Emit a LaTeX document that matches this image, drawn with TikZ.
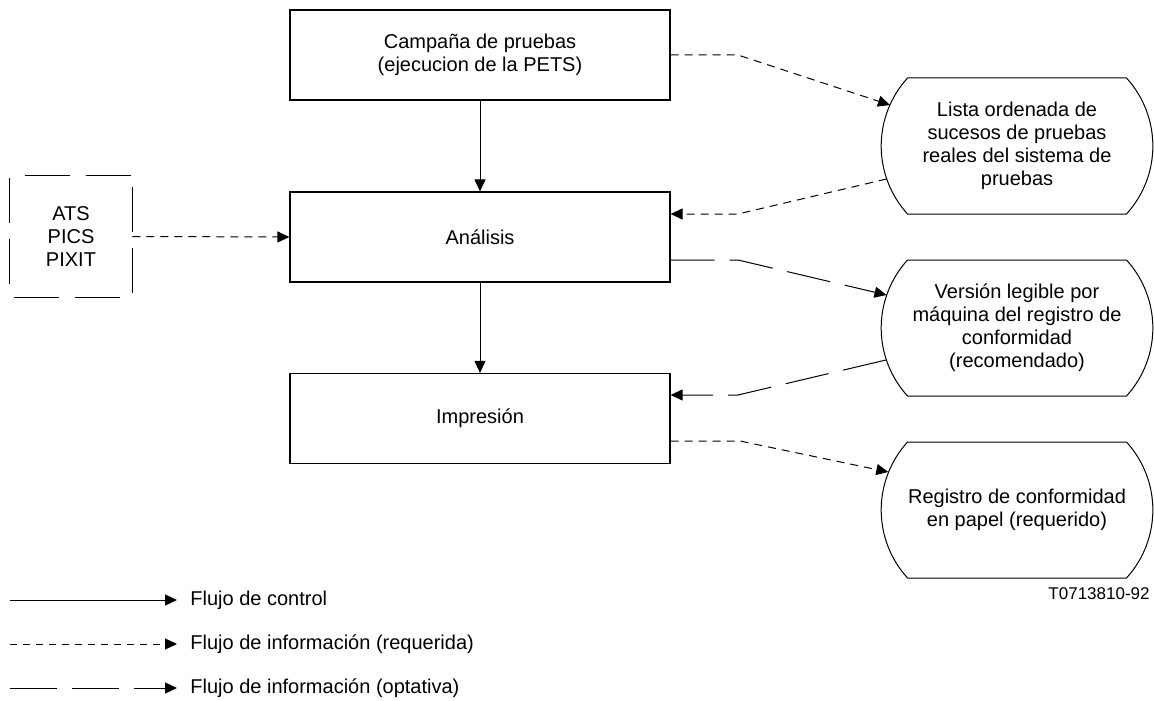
\documentclass[tikz,border=0pt]{standalone}
\usepackage{fontspec}
\setmainfont{Liberation Sans}
\usetikzlibrary{arrows.meta,calc}
\tikzset{
  box/.style={draw,line width=0.6pt,minimum width=190pt,minimum height=45pt,inner sep=0pt,align=center,font=\fontsize{10pt}{11.5pt}\selectfont},
  txt/.style={inner sep=0pt,align=center,font=\fontsize{10pt}{11.5pt}\selectfont},
  tip/.style={-{Triangle[length=6pt,width=5.5pt]}},
  ctl/.style={tip,line width=0.5pt},
  req/.style={tip,line width=0.5pt,dash pattern=on 4pt off 3pt},
  opt/.style={tip,line width=0.5pt,dash pattern=on 22pt off 7.5pt},
  shp/.style={line width=0.5pt},
  extside/.style={line width=0.5pt,dash pattern=on 22.5pt off 8pt}
}
\newcommand{\docshape}[1]{%
  \draw[shp] ($(#1)+(-109.5,-68)$) -- ($(#1)+(109.5,-68)$)
    .. controls ($(#1)+(144.6,-29.3)$) and ($(#1)+(144.6,29.3)$) .. ($(#1)+(109.5,68)$)
    -- ($(#1)+(-109.5,68)$)
    .. controls ($(#1)+(-144.6,29.3)$) and ($(#1)+(-144.6,-29.3)$) .. cycle;}
\begin{document}
\begin{tikzpicture}[x=0.5pt,y=-0.5pt]
\useasboundingbox (0,0) rectangle (1154,700);

% main boxes
\node[box] (camp) at (480,55) {Campaña de pruebas\\(ejecucion de la PETS)};
\node[box] (anal) at (480,237) {Análisis};
\node[box] (impr) at (480,418.5) {Impresión};

% external (dashed) box
\node[txt,minimum width=61pt,minimum height=60.5pt] (ext) at (71,236.5) {ATS\\PICS\\PIXIT};
\draw[extside,dash phase=23pt] (ext.north west) -- (ext.north east);
\draw[extside,dash phase=29.5pt] (ext.north west) -- (ext.south west);
\draw[extside,dash phase=25pt] (ext.north east) -- (ext.south east);
\draw[extside,dash phase=28.5pt] (ext.south west) -- (ext.south east);

% right-hand shapes
\node[txt] (lista) at (1017,146) {Lista ordenada de\\sucesos de pruebas\\reales del sistema de\\pruebas};
\docshape{lista}
\node[txt] (version) at (1017,328) {Versión legible por\\máquina del registro de\\conformidad\\(recomendado)};
\docshape{version}
\node[txt] (registro) at (1017,510) {Registro de conformidad\\en papel (requerido)};
\docshape{registro}

\coordinate (lista-in) at ($(lista)+(-127,-41)$);
\coordinate (lista-out) at ($(lista)+(-130.5,33)$);
\coordinate (version-in) at ($(version)+(-130.5,-33)$);
\coordinate (version-out) at ($(version)+(-131,32)$);
\coordinate (registro-in) at ($(registro)+(-128.7,-38)$);
\coordinate (b1) at (738,55);
\coordinate (b2) at (738,214);
\coordinate (b3) at (738,260);
\coordinate (b4) at (738,395);
\coordinate (b5) at (740,441);

% control flow
\draw[ctl] (camp.south) -- (anal.north);
\draw[ctl] (anal.south) -- (impr.north);

% information flows
\draw[req] (ext.east) -- (anal.west);
\draw[req] (camp.east) -- (b1) -- (lista-in);
\draw[req] (lista-out) -- (b2) -- ([yshift=11.5pt]anal.east);
\draw[opt] ([yshift=-11.5pt]anal.east) -- (b3) -- (version-in);
\draw[opt] (version-out) -- (b4) -- ([yshift=11.75pt]impr.east);
\draw[req] ([yshift=-11.25pt]impr.east) -- (b5) -- (registro-in);

% reference label
\node[inner sep=0pt,anchor=east,font=\fontsize{8.5pt}{10pt}\selectfont] (ref) at (1150,594) {T0713810-92};

% legend
\node[txt,anchor=west] (lg1) at (190,600) {Flujo de control};
\node[txt,anchor=west] (lg2) at (190,644) {Flujo de información (requerida)};
\node[txt,anchor=west] (lg3) at (190,688) {Flujo de información (optativa)};
\coordinate (lg1s) at (10,600);
\coordinate (lg2s) at (10,644);
\coordinate (lg3s) at (10,688);
\draw[ctl,shorten >=6.5pt] (lg1s) -- (lg1.west);
\draw[req,dash pattern=on 3.5pt off 3pt,shorten >=6.5pt] (lg2s) -- (lg2.west);
\draw[opt,dash pattern=on 23.5pt off 7.5pt,shorten >=6.5pt] (lg3s) -- (lg3.west);
\end{tikzpicture}
\end{document}
